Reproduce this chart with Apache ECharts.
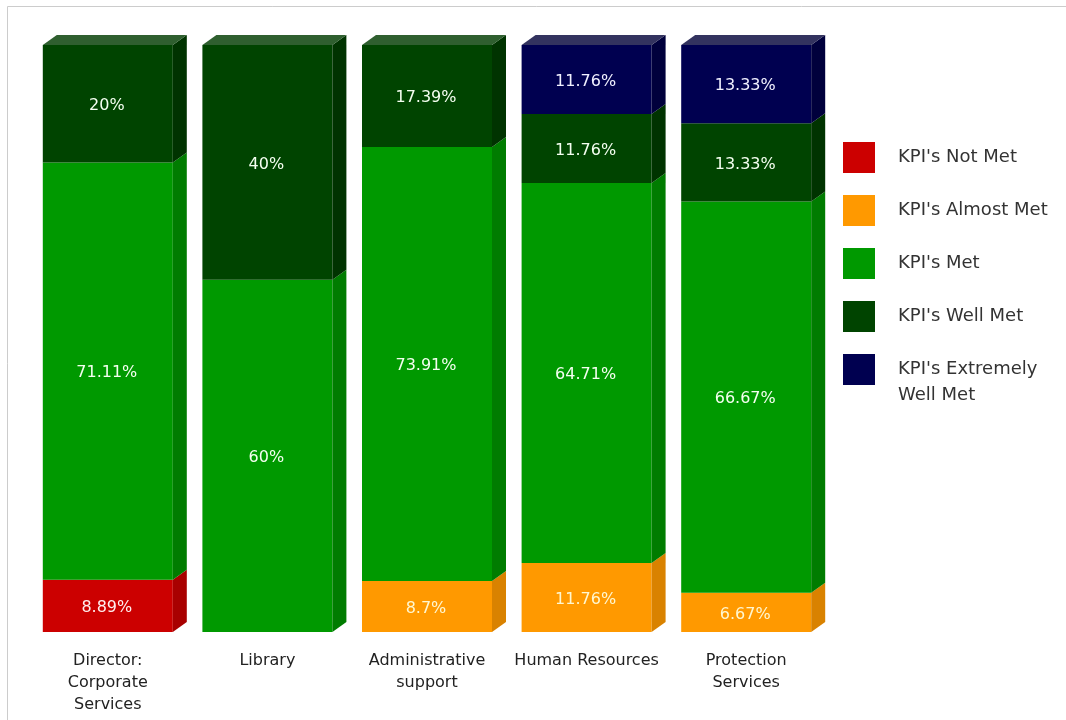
<!DOCTYPE html>
<html>
<head>
<meta charset="utf-8">
<script src="https://cdn.jsdelivr.net/npm/echarts@6/dist/echarts.min.js"></script>
<style>html,body{margin:0;padding:0;background:#fff;}#c{width:1066px;height:720px;}</style>
</head>
<body>
<div id="c"></div>
<script>
const categories = ['Director:\nCorporate\nServices', 'Library', 'Administrative\nsupport', 'Human Resources', 'Protection\nServices'];
const seriesNames = ["KPI's Not Met", "KPI's Almost Met", "KPI's Met", "KPI's Well Met", "KPI's Extremely Well Met"];
const notMet        = [8.89, 0,  0,     0,     0];
const almostMet     = [0,    0,  8.7,   11.76, 6.67];
const met           = [71.11,60, 73.91, 64.71, 66.67];
const wellMet       = [20,   40, 17.39, 11.76, 13.33];
const extremelyWell = [0,    0,  0,     11.76, 13.33];
const valueTicks = [0, 100];

const seriesValues = [notMet, almostMet, met, wellMet, extremelyWell];
const frontColors = ['#cc0000', '#ff9900', '#009900', '#004400', '#000050'];
const sideColors  = ['#a80000', '#d98200', '#007c00', '#003300', '#00003c'];
const topColors   = ['#d84040', '#ffb040', '#40b040', '#2f5f2f', '#33335f'];
const labelColors = ['#ffeeee', '#fff7d0', '#f4fff0', '#f4fff0', '#f0f0ff'];

const DX = 14, DY = 10, HALF = 65;

const totals = categories.map(() => 0);
const builtSeries = seriesValues.map((vals, si) => {
  const data = vals.map((v, ci) => {
    const start = totals[ci];
    totals[ci] += v;
    return [ci, start, start + v, v];
  });
  return { vals, data, si };
});

const series = builtSeries.map(({data, si}) => ({
  type: 'custom',
  name: seriesNames[si],
  itemStyle: { color: frontColors[si] },
  data: data,
  encode: { x: 0, y: [1, 2] },
  renderItem: function (params, api) {
    const v = api.value(3);
    if (!(v > 0)) return null;
    const ci = api.value(0);
    const p0 = api.coord([ci, api.value(1)]);
    const p1 = api.coord([ci, api.value(2)]);
    const cx = p0[0];
    const x0 = cx - HALF, x1 = cx + HALF;
    const yb = p0[1], yt = p1[1];
    const isTop = Math.abs(api.value(2) - totals[ci]) < 0.01;
    const children = [
      { type: 'rect', shape: { x: x0, y: yt, width: x1 - x0, height: yb - yt }, style: { fill: frontColors[si] } },
      { type: 'polygon', shape: { points: [[x1, yt], [x1 + DX, yt - DY], [x1 + DX, yb - DY], [x1, yb]] }, style: { fill: sideColors[si] } }
    ];
    if (isTop) {
      children.push({ type: 'polygon', shape: { points: [[x0, yt], [x0 + DX, yt - DY], [x1 + DX, yt - DY], [x1, yt]] }, style: { fill: topColors[si] } });
    }
    children.push({
      type: 'text',
      style: {
        text: (Math.round(v * 100) / 100) + '%',
        x: cx - 1, y: (yt + yb) / 2 + 2,
        align: 'center', verticalAlign: 'middle',
        fill: labelColors[si],
        font: '16px "DejaVu Sans"'
      }
    });
    return { type: 'group', children: children };
  }
}));

const chart = echarts.init(document.getElementById('c'), null, { renderer: 'canvas' });
chart.setOption({
  animation: false,
  backgroundColor: '#ffffff',
  textStyle: { fontFamily: 'DejaVu Sans' },
  grid: { left: 28, top: 45, width: 798, bottom: 88 },
  xAxis: {
    type: 'category',
    data: categories,
    axisLine: { show: false },
    axisTick: { show: false },
    axisLabel: { color: '#222', fontSize: 16, lineHeight: 22, margin: 18, interval: 0, fontFamily: 'DejaVu Sans' }
  },
  yAxis: {
    type: 'value',
    min: valueTicks[0], max: valueTicks[1], interval: 100,
    show: false
  },
  legend: {
    orient: 'vertical',
    left: 843, top: 142,
    padding: 0,
    itemWidth: 32, itemHeight: 31, itemGap: 22,
    icon: 'rect',
    data: seriesNames,
    formatter: function (n) { return n === "KPI's Extremely Well Met" ? "KPI's Extremely" : n; },
    textStyle: { color: '#333', fontSize: 18, lineHeight: 25, fontFamily: 'DejaVu Sans', padding: [0, 0, 0, 18] }
  },
  graphic: [
    { type: 'polyline', shape: { points: [[7.5, 720], [7.5, 6.5], [1066, 6.5]] }, style: { stroke: '#cccccc', lineWidth: 1, fill: null } },
    { type: 'text', left: 898, top: 386, style: { text: 'Well Met', fill: '#333', font: '18px "DejaVu Sans"' } }
  ],
  series: series
});
</script>
</body>
</html>
